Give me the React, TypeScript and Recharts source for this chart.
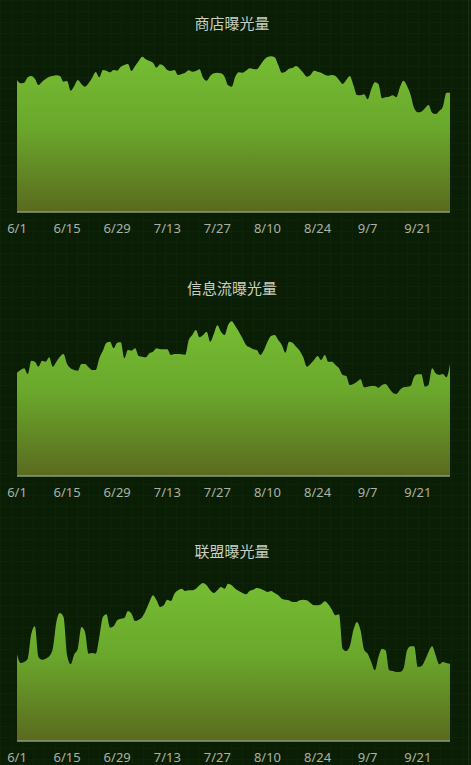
import React from "react";
import { AreaChart, Area, XAxis, YAxis } from "recharts";

const days: string[] = (() => {
  const out: string[] = [];
  const months = [
    [6, 30],
    [7, 31],
    [8, 31],
    [9, 30],
  ];
  for (const [m, n] of months) for (let d = 1; d <= n; d++) out.push(`${m}/${d}`);
  return out;
})();

const storeExposure = [
  132, 128.7, 129.3, 134.7, 136, 133.3, 127, 130.3, 133, 135.3,
  136, 136.7, 136, 130.3, 131, 121.3, 126, 132, 128,
  125.3, 128.7, 134.3, 140, 134.7, 142, 141.3, 139.7, 142, 141.3,
  145.3, 147, 148, 141, 146, 151, 155.3, 152.7, 151, 149.3,
  144.3, 147.7, 146, 142, 141, 142, 137, 138, 139.3, 141.7,
  140.3, 141, 142.7, 134.3, 131.3, 136, 138.7, 139.3, 138.7, 135.3,
  126.7, 125.3, 135.3, 139.7, 139.3, 141.3, 143.7, 143, 142.7, 147,
  152, 155, 155.7, 154.7, 147, 139.3, 140.3, 143.3, 144, 146,
  143.3, 139.3, 135.3, 137, 141.3, 140.3, 139.3, 137.3, 136.3,
  137, 136, 132, 128, 132, 136, 127, 117, 116.7,
  117.7, 112.7, 122.7, 129.7, 128, 113.7, 114.7, 115.3, 116.7, 114.7,
  124.7, 131.3, 126, 117, 103.7, 99.7, 100.3, 103.7, 107, 99.3,
  98, 101, 105.3, 119.3,
];

const feedExposure = [
  103.3, 106, 107.7, 102, 115.3, 114.3, 109.3, 115.3, 114.3, 118.7,
  109.3, 114.3, 119.3, 122, 112, 107.7, 106, 105.3, 112, 112,
  108.7, 106, 106, 117.7, 125.3, 133.3, 134.3, 127.7, 133.3, 133.7,
  117.7, 126, 125.3, 127.7, 120, 119.3, 118.7, 122.7, 124.3, 127.7,
  126.7, 126.7, 126.7, 121, 122, 122, 121.7, 121.3, 136,
  141, 146, 138.7, 141, 144.3, 134.3, 142, 150.7, 144.3, 141,
  151, 154.7, 150, 144.3, 137.7, 131, 128.7, 126.7, 126, 121,
  126, 134.3, 140, 141, 136, 131, 123.3, 134.3, 133.3, 129.3,
  125.3, 118.7, 109.3, 112, 116, 120, 116, 121, 114.3, 114.3,
  111, 107.7, 101, 100, 91, 92, 94.3, 96.7, 88.7, 89.3,
  90, 90, 88.3, 91, 92, 87.7, 83.3, 82, 86, 88.7,
  89.3, 90, 99.3, 101.7, 101.7, 89.3, 91, 107.7, 102.7, 101,
  102, 98.7, 112,
];

const allianceExposure = [
  86.7, 78, 79, 82.3, 107.3, 114.7, 84, 81.3, 82.3, 84.7,
  92.3, 119, 128, 124, 85.7, 76.7, 86.7, 92.3, 114, 109,
  87.3, 88, 87.3, 104, 124, 126.7, 113.3, 114.7, 120.7, 122.3,
  123, 130, 127.3, 120, 121.3, 124, 130.7, 139, 145.7, 140.7,
  134, 135.7, 141.3, 140, 147.3, 150.7, 152.3, 150, 150.7, 150.7,
  152.3, 155.7, 158, 155.7, 150.7, 148, 150.7, 154, 152.3, 157.3,
  155.7, 152.3, 150, 148, 146.7, 150, 151.3, 153, 152.3, 150.7,
  149, 150, 148, 145.7, 142.3, 141.3, 140.7, 139, 139, 140.7,
  141.3, 140.7, 138, 135.7, 135.7, 136.7, 139.7, 136.7, 131.3, 125.7,
  126.7, 92.3, 90, 94.7, 110.7, 119, 110.7, 91.3, 87.3, 79,
  70.7, 84, 92.3, 90.7, 70.7, 70, 69, 69, 72.3, 90.7,
  94.7, 94.7, 74, 74.7, 80.7, 89, 94.7, 85.7, 76.7, 79,
  78, 77.3,
];

const titles = ["商店曝光量", "信息流曝光量", "联盟曝光量"];
const seriesList = [storeExposure, feedExposure, allianceExposure];

const W = 471;
const CH = 244;
const tops = [0, 264, 529];
const titleTops = [13, 278, 541];

function Panel({ idx }: { idx: number }) {
  const values = seriesList[idx];
  const data = days.map((d, i) => ({ day: d, v: values[i] ?? values[values.length - 1] }));
  const gid = `g${idx}`;
  return (
    <div style={{ position: "absolute", left: 0, top: tops[idx], width: W, height: CH }}>
      <AreaChart width={W} height={CH} data={data} margin={{ top: 52, right: 21, bottom: 0, left: 17 }}>
        <defs>
          <linearGradient id={gid} x1="0" y1="0" x2="0" y2="1">
            <stop offset="0%" stopColor="#76bd33" />
            <stop offset="45%" stopColor="#6aa82c" />
            <stop offset="100%" stopColor="#5a6a1e" />
          </linearGradient>
        </defs>
        <XAxis
          dataKey="day"
          interval={13}
          tickLine={false}
          axisLine={{ stroke: "#8e9a80", strokeWidth: 1.5 }}
          tick={{ fill: "#aab2a2", fontSize: 13, fontFamily: "Noto Sans, sans-serif" }}
          tickMargin={6}
          height={32}
          padding={{ left: 0, right: 0 }}
        />
        <YAxis hide domain={[0, 160]} />
        <Area
          type="monotone"
          dataKey="v"
          stroke="none"
          fill={`url(#${gid})`}
          fillOpacity={1}
          isAnimationActive={false}
          dot={false}
          activeDot={false}
        />
      </AreaChart>
      <div
        style={{
          position: "absolute",
          left: 0,
          width: 464,
          top: titleTops[idx] - tops[idx],
          textAlign: "center",
          color: "#c9cfc3",
          fontSize: 15,
          fontFamily: "'Noto Sans CJK SC', sans-serif",
          lineHeight: "20px",
        }}
      >
        {titles[idx]}
      </div>
    </div>
  );
}

export default function App() {
  return (
    <div
      style={{
        position: "absolute",
        left: 0,
        top: 0,
        width: W,
        height: 765,
        backgroundColor: "#0a1e05",
        backgroundImage:
          "linear-gradient(rgba(40,70,25,0.12) 1px, transparent 1px), linear-gradient(90deg, rgba(40,70,25,0.12) 1px, transparent 1px)",
        backgroundSize: "11px 11px",
        overflow: "hidden",
      }}
    >
      <div style={{ position: "absolute", right: 2, top: 0, width: 1.5, height: 765, background: "#1a3010" }} />
      {[0, 1, 2].map((i) => (
        <Panel key={i} idx={i} />
      ))}
    </div>
  );
}
